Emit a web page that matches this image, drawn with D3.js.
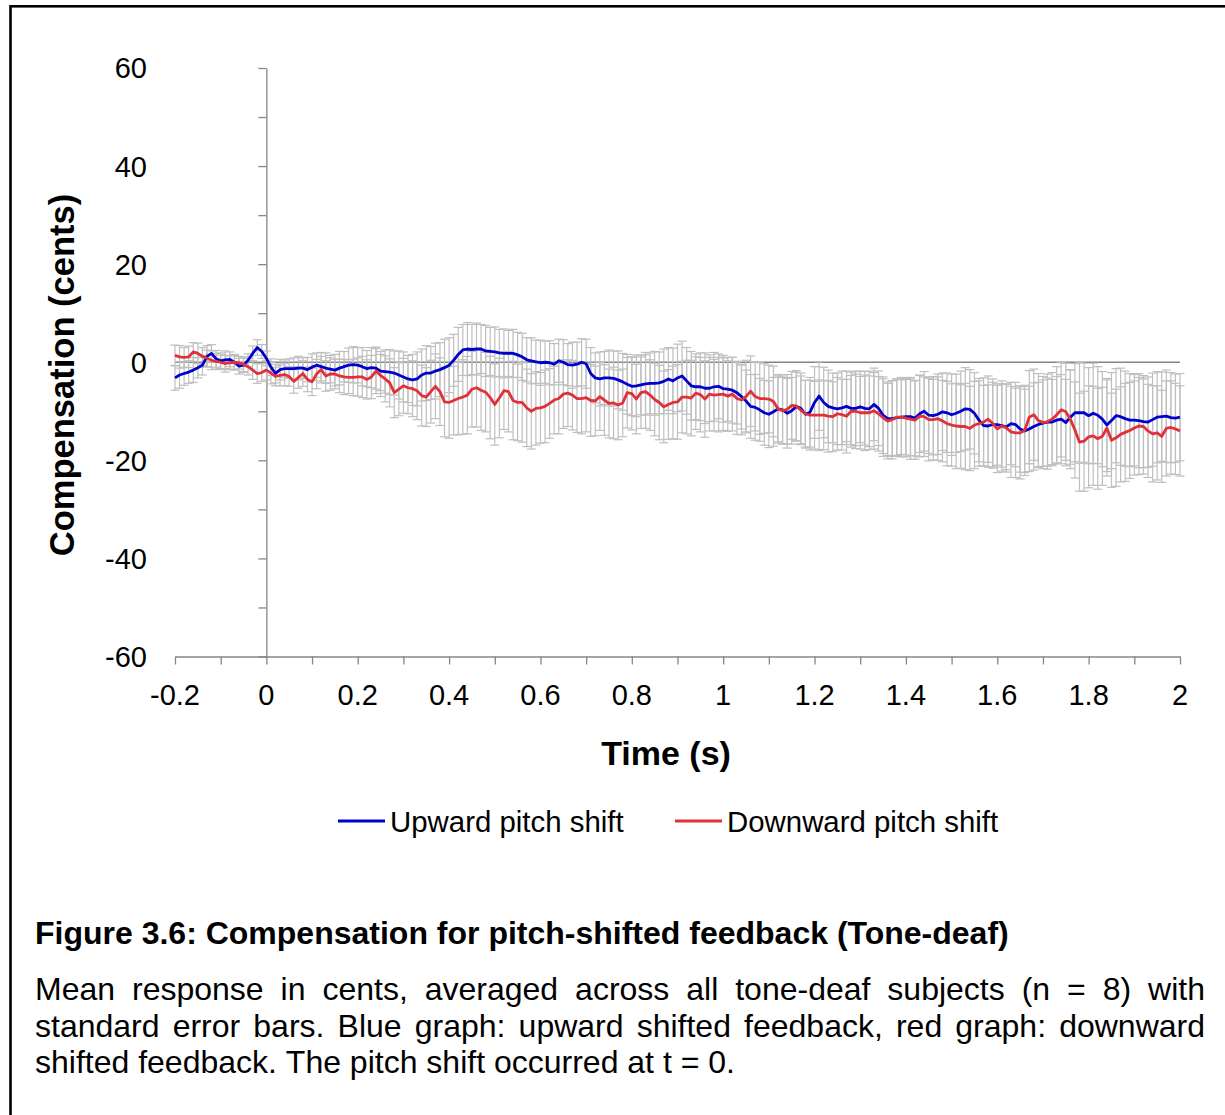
<!DOCTYPE html>
<html>
<head>
<meta charset="utf-8">
<script src="https://cdn.jsdelivr.net/npm/d3@7"></script>
<style>
  html, body { margin: 0; padding: 0; background: #fff; }
  svg { display: block; font-family: "Liberation Sans", Arial, sans-serif; }
</style>
</head>
<body>
<svg id="fig" width="1225" height="1115"></svg>
<script>
// Sampling of the averaged responses (seconds)
const timeStart = -0.2;
const timeStep = 0.01;

// Mean compensation (cents), upward pitch shift, one value per 10 ms from -0.20 s
const upwardMean = [
  -3.2, -2.6, -2.3, -2.0, -1.6, -1.1, -0.6, 1.2, 1.8, 0.7,
  0.3, 0.5, 0.6, 0.0, -0.8, -0.6, 0.4, 1.8, 3.0, 2.2,
  0.8, -1.0, -2.3, -1.5, -1.3, -1.3, -1.3, -1.2, -1.2, -1.5,
  -1.0, -0.6, -0.9, -1.2, -1.4, -1.6, -1.2, -0.9, -0.6, -0.5,
  -0.6, -0.9, -1.3, -1.1, -1.2, -1.8, -1.9, -2.0, -2.2, -2.6,
  -3.0, -3.4, -3.6, -3.4, -2.6, -2.2, -2.2, -1.8, -1.5, -1.1,
  -0.6, 0.4, 1.6, 2.5, 2.7, 2.6, 2.7, 2.7, 2.3, 2.2,
  2.1, 1.9, 1.8, 1.8, 1.8, 1.5, 1.1, 0.5, 0.3, 0.1,
  -0.1, 0.0, -0.1, -0.4, 0.3, 0.0, -0.5, -0.6, -0.4, 0.0,
  -0.3, -2.3, -3.2, -3.4, -3.2, -3.2, -3.3, -3.6, -4.0, -4.5,
  -4.9, -4.8, -4.6, -4.4, -4.3, -4.3, -4.2, -3.9, -3.4, -3.8,
  -3.2, -2.8, -3.8, -4.8, -5.0, -5.0, -5.3, -5.3, -5.0, -4.9,
  -5.4, -5.5, -5.7, -6.2, -7.0, -7.9, -9.0, -9.2, -9.7, -10.3,
  -10.6, -10.1, -9.5, -9.7, -10.4, -9.9, -9.0, -9.4, -10.6, -10.2,
  -8.2, -6.9, -8.2, -9.0, -9.3, -9.5, -9.3, -9.0, -9.4, -9.4,
  -9.1, -9.4, -9.5, -8.6, -9.4, -10.8, -11.5, -11.5, -11.3, -11.2,
  -11.1, -11.1, -11.4, -10.5, -10.0, -10.8, -10.9, -10.6, -10.1, -10.3,
  -10.7, -10.4, -10.0, -9.5, -9.6, -10.4, -11.8, -12.9, -13.0, -12.7,
  -12.7, -12.9, -13.2, -12.5, -12.7, -13.6, -14.0, -13.6, -13.1, -12.7,
  -12.4, -12.2, -12.2, -11.8, -11.6, -12.3, -11.2, -10.3, -10.3, -10.3,
  -10.9, -10.4, -10.8, -11.6, -12.8, -11.9, -10.9, -11.1, -11.5, -11.8,
  -11.8, -11.9, -12.1, -12.2, -11.7, -11.2, -11.1, -11.0, -11.3, -11.4,
  -11.2
];

// Standard error (cents), upward pitch shift
const upwardSE = [
  2.5, 2.7, 2.4, 2.3, 2.5, 2.1, 2.0, 2.2, 1.8, 1.7,
  1.6, 1.8, 1.5, 1.4, 1.6, 1.5, 1.3, 1.5, 1.6, 1.4,
  1.5, 1.7, 1.9, 2.1, 1.8, 2.0, 2.2, 2.4, 2.1, 2.5,
  2.7, 2.5, 2.9, 3.1, 2.8, 3.2, 3.4, 3.1, 3.5, 3.7,
  3.6, 3.9, 3.7, 4.1, 4.3, 4.0, 4.4, 4.6, 4.5, 4.9,
  5.1, 4.8, 5.2, 5.5, 5.3, 5.6, 5.4, 5.7, 5.5, 5.8,
  5.6, 5.3, 5.5, 5.2, 5.4, 5.1, 5.3, 5.0, 5.2, 4.9,
  5.1, 4.8, 5.0, 4.7, 4.9, 4.6, 4.8, 4.5, 4.7, 4.4,
  4.6, 4.3, 4.5, 4.2, 4.4, 4.6, 4.3, 4.7, 4.5, 4.8,
  5.0, 5.3, 5.1, 5.5, 5.4, 5.7, 5.6, 5.9, 5.8, 6.1,
  6.0, 6.3, 6.1, 6.4, 6.2, 6.5, 6.3, 6.6, 6.4, 6.7,
  6.9, 7.1, 6.8, 7.0, 6.7, 6.9, 7.2, 6.8, 7.0, 6.6,
  6.8, 6.5, 6.7, 6.4, 6.6, 6.3, 6.5, 6.7, 6.4, 6.6,
  6.8, 7.0, 6.7, 6.9, 7.1, 6.8, 7.0, 7.2, 6.9, 7.1,
  7.3, 7.0, 7.2, 7.4, 7.1, 7.3, 7.5, 7.2, 7.4, 7.6,
  7.3, 7.5, 7.7, 7.4, 7.6, 7.8, 7.5, 7.7, 7.9, 7.6,
  7.8, 8.0, 7.7, 7.9, 8.1, 7.8, 8.0, 8.2, 7.9, 8.1,
  8.3, 8.0, 8.2, 8.4, 8.1, 8.3, 8.5, 8.2, 8.4, 8.6,
  8.3, 8.5, 8.7, 8.4, 8.6, 8.8, 8.5, 8.7, 8.9, 8.6,
  8.8, 9.0, 8.7, 8.9, 9.1, 8.8, 9.6, 10.0, 10.3, 10.1,
  9.8, 10.2, 9.9, 9.7, 9.5, 9.8, 9.6, 9.9, 9.7, 9.5,
  9.3, 9.6, 9.4, 9.2, 9.5, 9.3, 9.1, 9.4, 9.2, 9.0,
  8.9
];

// Mean compensation (cents), downward pitch shift
const downwardMean = [
  1.4, 1.1, 1.0, 1.1, 2.1, 1.8, 1.2, 0.8, 0.4, 0.2,
  0.0, -0.3, -0.1, 0.0, -0.1, -0.4, -0.9, -1.6, -2.3, -2.1,
  -1.6, -2.2, -2.9, -2.7, -2.5, -2.9, -3.9, -3.1, -2.3, -3.5,
  -4.0, -2.4, -1.5, -2.8, -2.4, -2.4, -2.8, -3.0, -3.1, -3.1,
  -3.0, -3.0, -3.5, -3.0, -1.8, -2.7, -3.4, -4.2, -6.2, -5.5,
  -4.8, -5.2, -5.4, -5.8, -6.8, -7.1, -6.0, -4.9, -6.0, -8.1,
  -8.2, -7.8, -7.4, -7.1, -6.7, -5.5, -5.2, -5.7, -6.1, -7.2,
  -8.6, -7.3, -5.8, -6.0, -7.8, -8.2, -8.2, -9.3, -10.0, -9.4,
  -9.3, -9.0, -8.4, -7.7, -7.4, -6.5, -6.3, -6.7, -7.4, -7.4,
  -7.2, -7.8, -7.9, -7.0, -7.7, -8.4, -8.3, -8.7, -8.3, -6.2,
  -6.4, -7.5, -6.2, -6.0, -6.7, -7.6, -8.2, -9.1, -8.6, -8.2,
  -8.1, -7.1, -7.1, -7.3, -6.3, -6.6, -7.5, -6.5, -6.7, -6.6,
  -6.5, -6.9, -6.5, -7.4, -7.7, -7.0, -5.9, -7.0, -7.4, -7.4,
  -7.5, -8.0, -9.5, -9.9, -9.6, -8.8, -8.9, -9.8, -10.5, -10.8,
  -10.8, -10.8, -10.8, -11.0, -11.1, -10.5, -10.7, -11.0, -10.0, -10.0,
  -10.3, -10.3, -10.3, -9.9, -10.5, -11.3, -12.0, -11.7, -11.2, -11.2,
  -11.4, -11.6, -11.8, -11.0, -11.1, -11.7, -11.7, -11.5, -12.0, -12.5,
  -12.8, -13.0, -13.1, -13.1, -13.5, -12.8, -12.5, -12.2, -11.6, -12.5,
  -13.6, -13.0, -13.4, -14.2, -14.4, -14.4, -13.9, -11.2, -10.7, -11.9,
  -12.3, -12.1, -11.6, -10.7, -9.7, -10.1, -11.6, -13.8, -16.3, -16.1,
  -15.2, -15.0, -15.6, -15.1, -13.4, -15.9, -15.4, -14.7, -14.3, -13.9,
  -13.4, -13.0, -13.1, -14.0, -14.6, -14.4, -15.1, -13.5, -13.3, -13.6,
  -14.0
];

// Standard error (cents), downward pitch shift
const downwardSE = [
  2.1, 2.3, 2.0, 2.2, 1.9, 2.1, 1.8, 1.7, 1.9, 1.6,
  1.5, 1.7, 1.4, 1.6, 1.3, 1.5, 1.7, 1.9, 2.0, 1.8,
  2.0, 2.2, 1.9, 2.1, 2.3, 2.0, 2.4, 2.2, 2.6, 2.5,
  2.8, 3.0, 2.7, 3.1, 3.3, 3.0, 3.4, 3.6, 3.3, 3.7,
  3.9, 4.2, 4.0, 4.4, 4.6, 4.3, 4.7, 4.9, 5.1, 5.4,
  5.6, 5.3, 5.7, 5.9, 6.2, 6.0, 6.4, 6.6, 6.9, 7.1,
  7.3, 7.0, 7.4, 7.6, 7.9, 7.7, 8.0, 8.2, 8.1, 8.4,
  8.3, 8.1, 7.9, 8.2, 8.0, 7.8, 8.1, 7.9, 7.7, 7.5,
  7.2, 7.4, 7.1, 6.9, 7.2, 7.0, 6.8, 7.1, 6.9, 7.2,
  7.0, 7.3, 7.1, 6.9, 7.2, 7.0, 7.3, 7.1, 6.9, 7.2,
  7.4, 7.1, 7.3, 7.5, 7.2, 7.4, 7.6, 7.3, 7.1, 7.4,
  7.6, 7.3, 7.5, 7.7, 7.4, 7.6, 7.8, 7.5, 7.3, 7.6,
  7.4, 7.2, 7.5, 7.3, 7.1, 7.4, 7.2, 7.0, 7.3, 7.1,
  6.9, 7.2, 7.0, 6.8, 7.1, 6.9, 7.2, 7.0, 6.8, 7.1,
  6.9, 7.2, 7.0, 7.3, 7.1, 7.4, 7.2, 7.5, 7.3, 7.6,
  7.4, 7.7, 7.5, 7.8, 7.6, 7.9, 7.7, 8.0, 7.8, 8.1,
  7.9, 8.2, 8.0, 8.3, 8.1, 8.4, 8.2, 8.5, 8.3, 8.6,
  8.4, 8.7, 8.5, 8.8, 8.6, 8.9, 8.7, 9.0, 8.8, 9.1,
  8.9, 9.2, 9.0, 9.3, 9.1, 9.4, 9.2, 9.5, 9.3, 9.6,
  9.4, 9.7, 9.5, 9.8, 9.6, 9.9, 10.1, 9.8, 10.0, 10.2,
  10.4, 10.1, 10.3, 10.0, 9.8, 9.6, 9.9, 9.7, 10.0, 9.8,
  9.6, 9.9, 9.7, 9.5, 9.8, 9.6, 9.4, 9.7, 9.5, 9.3,
  9.2
];

// Axis ticks
const xTicks = [-0.2, -0.1, 0, 0.1, 0.2, 0.3, 0.4, 0.5, 0.6, 0.7, 0.8, 0.9, 1, 1.1, 1.2, 1.3, 1.4, 1.5, 1.6, 1.7, 1.8, 1.9, 2];
const xTickLabels = ["-0.2", "0", "0.2", "0.4", "0.6", "0.8", "1", "1.2", "1.4", "1.6", "1.8", "2"];
const yTicks = [-60, -50, -40, -30, -20, -10, 0, 10, 20, 30, 40, 50, 60];
const yTickLabels = ["-60", "-40", "-20", "0", "20", "40", "60"];

const seriesNames = ["Upward pitch shift", "Downward pitch shift"];
const seriesColors = ["#0000cc", "#e0303a"];

const captionTitle = "Figure 3.6: Compensation for pitch-shifted feedback (Tone-deaf)";
const captionLines = [
  "Mean response in cents, averaged across all tone-deaf subjects (n = 8) with",
  "standard error bars. Blue graph: upward shifted feedback, red graph: downward",
  "shifted feedback. The pitch shift occurred at t = 0."
];

const times = upwardMean.map((_, i) => +(timeStart + i * timeStep).toFixed(2));
const series = [
  { name: seriesNames[0], color: seriesColors[0], mean: upwardMean, se: upwardSE },
  { name: seriesNames[1], color: seriesColors[1], mean: downwardMean, se: downwardSE }
];

const svg = d3.select("#fig");
const axisColor = "#868686";
const barColor = "#bfbfbf";

// Outer frame of the figure
svg.append("rect")
  .attr("x", 10.5).attr("y", 6.3)
  .attr("width", 1400).attr("height", 1400)
  .attr("fill", "none").attr("stroke", "#000").attr("stroke-width", 2.6);

const x = d3.scaleLinear().domain([-0.2, 2]).range([175, 1180]);
const y = d3.scaleLinear().domain([-60, 60]).range([656.5, 68]);

// Horizontal axis along the bottom (-60)
const xAxis = svg.append("g")
  .attr("transform", `translate(0,${y(-60)})`)
  .call(d3.axisBottom(x).tickValues(xTicks).tickSize(8).tickSizeOuter(0).tickFormat(""));
xAxis.selectAll("path, line").attr("stroke", axisColor).attr("stroke-width", 1.3);

// Vertical axis crossing at t = 0
const yAxis = svg.append("g")
  .attr("transform", `translate(${x(0)},0)`)
  .call(d3.axisLeft(y).tickValues(yTicks).tickSize(8).tickSizeOuter(0).tickFormat(""));
yAxis.selectAll("path, line").attr("stroke", axisColor).attr("stroke-width", 1.3);

// Zero reference line
svg.append("line")
  .attr("x1", x(-0.2)).attr("x2", x(2))
  .attr("y1", y(0)).attr("y2", y(0))
  .attr("stroke", axisColor).attr("stroke-width", 1.3);

// Tick labels
svg.append("g").selectAll("text").data(xTickLabels).join("text")
  .attr("x", d => x(+d)).attr("y", 705)
  .attr("text-anchor", "middle")
  .attr("font-size", 29).attr("fill", "#000")
  .text(d => d);

svg.append("g").selectAll("text").data(yTickLabels).join("text")
  .attr("x", 147).attr("y", d => y(+d))
  .attr("dy", "0.36em")
  .attr("text-anchor", "end")
  .attr("font-size", 29).attr("fill", "#000")
  .text(d => d);

// Axis titles
svg.append("text")
  .attr("x", 666).attr("y", 765)
  .attr("text-anchor", "middle")
  .attr("font-size", 34).attr("font-weight", "bold")
  .text("Time (s)");

svg.append("text")
  .attr("transform", "translate(74,375) rotate(-90)")
  .attr("text-anchor", "middle")
  .attr("font-size", 34.5).attr("font-weight", "bold")
  .text("Compensation (cents)");

// Standard error bars (drawn beneath the mean traces)
const cap = 4.5;
const bars = svg.append("g").attr("stroke", barColor).attr("stroke-width", 1.2).attr("fill", "none");
series.forEach(s => {
  const pts = times.map((t, i) => ({ t, lo: s.mean[i] - s.se[i], hi: s.mean[i] + s.se[i] }));
  const g = bars.append("g");
  g.selectAll("line.v").data(pts).join("line").attr("class", "v")
    .attr("x1", d => x(d.t)).attr("x2", d => x(d.t))
    .attr("y1", d => y(d.hi)).attr("y2", d => y(d.lo));
  g.selectAll("line.hi").data(pts).join("line").attr("class", "hi")
    .attr("x1", d => x(d.t) - cap).attr("x2", d => x(d.t) + cap)
    .attr("y1", d => y(d.hi)).attr("y2", d => y(d.hi));
  g.selectAll("line.lo").data(pts).join("line").attr("class", "lo")
    .attr("x1", d => x(d.t) - cap).attr("x2", d => x(d.t) + cap)
    .attr("y1", d => y(d.lo)).attr("y2", d => y(d.lo));
});

// Mean traces
const line = d3.line().x(d => x(d[0])).y(d => y(d[1]));
series.forEach(s => {
  svg.append("path")
    .datum(times.map((t, i) => [t, s.mean[i]]))
    .attr("d", line)
    .attr("fill", "none")
    .attr("stroke", s.color)
    .attr("stroke-width", 2.8)
    .attr("stroke-linejoin", "round");
});

// Legend
const legendItems = [
  { x: 338, s: series[0] },
  { x: 675, s: series[1] }
];
legendItems.forEach(item => {
  svg.append("line")
    .attr("x1", item.x).attr("x2", item.x + 47)
    .attr("y1", 821).attr("y2", 821)
    .attr("stroke", item.s.color).attr("stroke-width", 2.8);
  svg.append("text")
    .attr("x", item.x + 52).attr("y", 832)
    .attr("font-size", 29.4)
    .text(item.s.name);
});

// Caption
svg.append("text")
  .attr("x", 35).attr("y", 944)
  .attr("font-size", 32).attr("font-weight", "bold")
  .text(captionTitle);

// Justified caption body
const left = 35, right = 1205, bodySize = 32;
const baselines = [1000, 1036.5, 1073];
captionLines.forEach((txt, li) => {
  const words = txt.split(" ");
  const g = svg.append("g");
  const nodes = words.map(w => g.append("text")
    .attr("font-size", bodySize).attr("y", baselines[li]).text(w));
  const widths = nodes.map(n => n.node().getComputedTextLength());
  const total = d3.sum(widths);
  let gap;
  if (li < captionLines.length - 1) {
    gap = (right - left - total) / (words.length - 1);
  } else {
    const probe = g.append("text").attr("font-size", bodySize).text("a a");
    const probe2 = g.append("text").attr("font-size", bodySize).text("aa");
    gap = probe.node().getComputedTextLength() - probe2.node().getComputedTextLength();
    probe.remove(); probe2.remove();
  }
  let cx = left;
  nodes.forEach((n, i) => { n.attr("x", cx); cx += widths[i] + gap; });
});
</script>
</body>
</html>
